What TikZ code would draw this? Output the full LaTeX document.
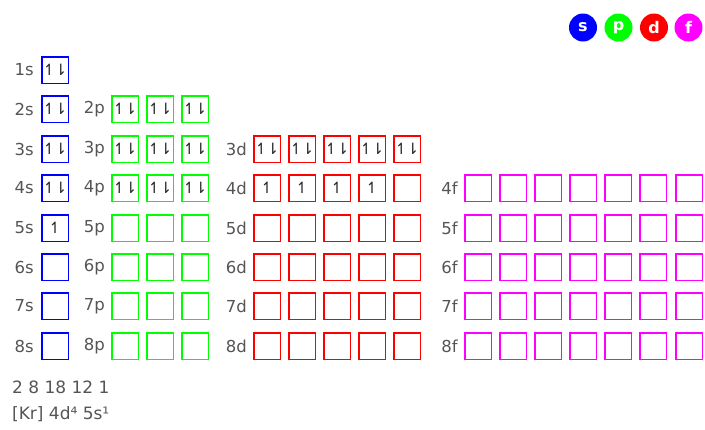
\documentclass[tikz,border=0pt]{standalone}
\usepackage{fontspec}
\usetikzlibrary{calc}
\setmainfont{DejaVu Sans}
\definecolor{sblue}{RGB}{0,0,255}
\definecolor{pgreen}{RGB}{0,255,0}
\definecolor{dred}{RGB}{255,0,0}
\definecolor{fmag}{RGB}{255,0,255}
\definecolor{lbl}{RGB}{85,85,85}
\definecolor{spin}{RGB}{40,40,40}
\tikzset{
  orb/.style={fill=#1, minimum size=28pt, inner sep=0pt, outer sep=0pt, font=\fontsize{15.5}{15.5}\selectfont,
    path picture={\fill[white] ($(path picture bounding box.south west)+(1.5pt,1.5pt)$) rectangle ($(path picture bounding box.north east)+(-1.5pt,-1.5pt)$);}},
  lab/.style={anchor=east, inner sep=0pt, font=\fontsize{16.5}{17}\selectfont},
  key/.style={circle, fill=#1, minimum size=28pt, inner sep=0pt, font=\bfseries\fontsize{16}{16}\selectfont},
  info/.style={anchor=west, inner sep=0pt, font=\fontsize{17}{18}\selectfont}
}
\newcommand{\pair}{\textcolor{spin}{↿\kern-1.5pt⇂}}
\newcommand{\single}{\textcolor{spin}{↿}}
\newcommand{\gray}[1]{\textcolor{lbl}{#1}}
\begin{document}
\begin{tikzpicture}[x=1pt,y=-1pt]
\useasboundingbox (0,0) rectangle (705,429);
% s column
\foreach \n in {1,...,8}{
  \pgfmathsetmacro{\yy}{round(70+39.4*(\n-1))}
  \ifnum\n<5
    \node[orb=sblue] (s\n) at (55,\yy) {\pair};
  \else\ifnum\n=5
    \node[orb=sblue] (s\n) at (55,\yy) {\single};
  \else
    \node[orb=sblue] (s\n) at (55,\yy) {};
  \fi\fi
}
% p column
\foreach \n in {2,...,8}{
  \pgfmathsetmacro{\yy}{round(70+39.4*(\n-1))}
  \foreach \i in {0,1,2}{
    \pgfmathsetmacro{\xx}{round(124.5+35.3*\i)}
    \ifnum\n<5
      \node[orb=pgreen] (p\n-\i) at (\xx,\yy) {\pair};
    \else
      \node[orb=pgreen] (p\n-\i) at (\xx,\yy) {};
    \fi
  }
}
% d column
\foreach \n in {3,...,8}{
  \pgfmathsetmacro{\yy}{round(70+39.4*(\n-1))}
  \foreach \i in {0,...,4}{
    \pgfmathsetmacro{\xx}{round(266.5+35.2*\i)}
    \ifnum\n=3
      \node[orb=dred] (d\n-\i) at (\xx,\yy) {\pair};
    \else\ifnum\n=4
      \ifnum\i<4
        \node[orb=dred] (d\n-\i) at (\xx,\yy) {\single};
      \else
        \node[orb=dred] (d\n-\i) at (\xx,\yy) {};
      \fi
    \else
      \node[orb=dred] (d\n-\i) at (\xx,\yy) {};
    \fi\fi
  }
}
% f column
\foreach \n in {4,...,8}{
  \pgfmathsetmacro{\yy}{round(70+39.4*(\n-1))}
  \foreach \i in {0,...,6}{
    \pgfmathsetmacro{\xx}{round(477.5+35.2*\i)}
    \node[orb=fmag] (f\n-\i) at (\xx,\yy) {};
  }
}
% legend circles
\node[key=sblue] (ks) at (583,27.5) {\textcolor{white}{s}};
\node[key=pgreen] (kp) at (618.5,27.5) {\textcolor{white}{p}};
\node[key=dred] (kd) at (654,27.5) {\textcolor{white}{d}};
\node[key=fmag] (kf) at (688.5,27.5) {\textcolor{white}{f}};
% labels
\foreach \n in {1,...,8}{
  \pgfmathsetmacro{\yy}{round(70+39.4*(\n-1))}
  \node[lab] (ls\n) at (34,\yy) {\gray{\n s}};
}
\foreach \n in {2,...,8}{
  \pgfmathsetmacro{\yy}{round(70+39.4*(\n-1))}
  \node[lab] (lp\n) at (105,\yy) {\gray{\n p}};
}
\foreach \n in {3,...,8}{
  \pgfmathsetmacro{\yy}{round(70+39.4*(\n-1))}
  \node[lab] (ld\n) at (247,\yy) {\gray{\n d}};
}
\foreach \n in {4,...,8}{
  \pgfmathsetmacro{\yy}{round(70+39.4*(\n-1))}
  \node[lab] (lf\n) at (458,\yy) {\gray{\n f}};
}
% info text
\node[info] (shells) at (12,387) {\gray{2 8 18 12 1}};
\node[info] (config) at (12,414.5) {\gray{[Kr] 4d⁴ 5s¹}};
\end{tikzpicture}
\end{document}
